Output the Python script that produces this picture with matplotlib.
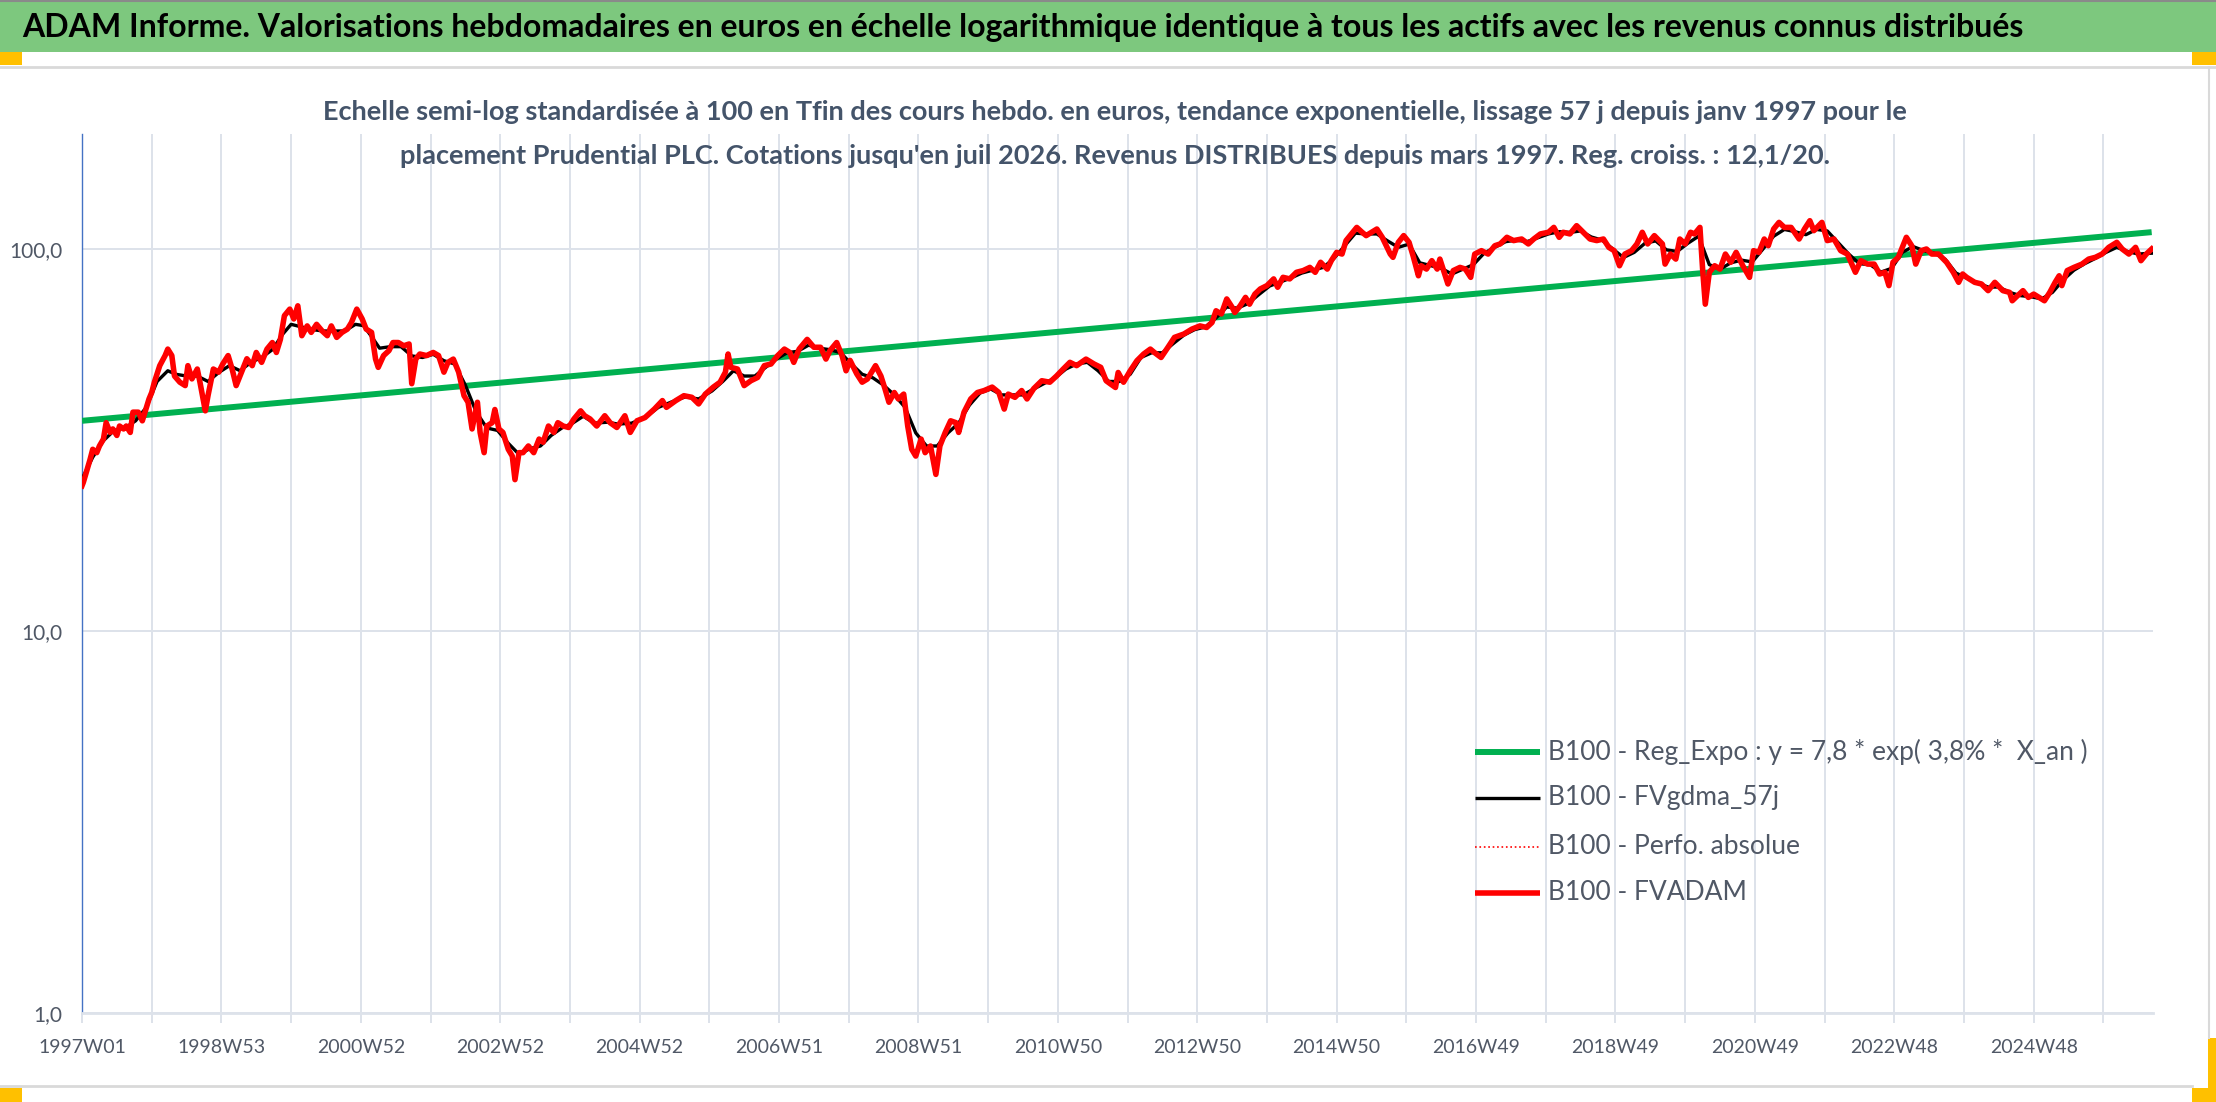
import matplotlib
matplotlib.use("Agg")
import matplotlib.pyplot as plt
from matplotlib.lines import Line2D
from matplotlib.patches import Rectangle

# valeurs (index = semaines depuis 1997W01, base 100)
red_week = [0, 1, 3, 6, 8, 11, 13, 16, 18, 21, 23, 26, 28, 31, 33, 36, 38, 42, 45, 47,
            50, 52, 54, 58, 62, 64, 67, 69, 73, 77, 79, 82, 86, 88, 92, 94, 98, 102, 105, 109,
            112, 115, 119, 123, 127, 130, 134, 138, 142, 145, 148, 151, 155, 158, 161, 164, 168, 171, 175, 179,
            183, 186, 190, 194, 198, 201, 205, 209, 212, 216, 219, 221, 225, 229, 232, 236, 240, 244, 246, 249,
            252, 257, 262, 266, 270, 273, 277, 281, 285, 288, 291, 295, 297, 300, 302, 306, 308, 311, 314, 318,
            321, 323, 326, 329, 333, 337, 341, 344, 348, 352, 355, 359, 363, 367, 372, 375, 379, 384, 390, 394,
            399, 405, 409, 414, 420, 427, 433, 436, 443, 449, 455, 460, 465, 471, 476, 480, 482, 484, 489, 494,
            499, 504, 509, 514, 519, 524, 528, 531, 535, 541, 546, 551, 555, 558, 563, 567, 570, 573, 578, 582,
            586, 592, 596, 599, 602, 606, 609, 613, 616, 619, 622, 626, 629, 633, 637, 640, 644, 648, 652, 654,
            658, 663, 668, 673, 679, 684, 688, 691, 696, 701, 705, 710, 716, 722, 727, 732, 737, 742, 749, 755,
            760, 764, 767, 771, 773, 777, 782, 787, 792, 797, 800, 805, 810, 815, 822, 828, 834, 839, 843, 846,
            850, 854, 858, 860, 864, 868, 871, 875, 879, 884, 889, 892, 896, 901, 906, 911, 916, 920, 924, 929,
            932, 936, 940, 943, 947, 951, 955, 958, 962, 966, 970, 973, 976, 978, 982, 986, 990, 993, 997, 999,
            1003, 1007, 1011, 1013, 1017, 1019, 1023, 1028, 1032, 1036, 1039, 1044, 1049, 1054, 1058, 1063, 1068, 1074, 1079, 1083,
            1088, 1094, 1098, 1102, 1105, 1110, 1115, 1120, 1125, 1130, 1135, 1139, 1143, 1147, 1151, 1156, 1160, 1164, 1168, 1173,
            1179, 1181, 1185, 1189, 1192, 1196, 1200, 1203, 1207, 1209, 1211, 1214, 1218, 1222, 1226, 1230, 1234, 1239, 1244, 1247,
            1251, 1255, 1258, 1262, 1266, 1270, 1275, 1281, 1285, 1289, 1292, 1298, 1302, 1307, 1312, 1317, 1323, 1327, 1332, 1337,
            1341, 1345, 1348, 1351, 1355, 1361, 1365, 1368, 1372, 1376, 1380, 1385, 1391, 1396, 1400, 1403, 1406, 1412, 1417, 1422,
            1427, 1433, 1438, 1440, 1444, 1448, 1452, 1456, 1460, 1464, 1468, 1472, 1475, 1477, 1481, 1486, 1492, 1497, 1502, 1507,
            1512, 1518, 1522, 1527, 1532, 1536, 1540, 1544]
red_val = [24.0, 24.5, 25.9, 28.1, 29.9, 29.3, 30.5, 31.8, 35.1, 33.1, 33.8, 32.5, 34.4, 33.8, 34.4, 33.1, 37.4, 37.4, 35.5, 37.4,
           40.5, 42.1, 44.8, 49.5, 52.6, 54.7, 52.6, 46.5, 44.8, 43.9, 49.5, 45.7, 48.5, 44.8, 37.7, 41.3, 48.5, 47.6, 50.0, 52.6,
           48.5, 43.9, 47.6, 51.6, 49.5, 53.6, 50.5, 54.7, 56.9, 53.6, 58.0, 66.9, 69.6, 65.6, 71.0, 59.3, 62.9, 60.5, 63.5, 61.1,
           59.3, 62.9, 58.7, 60.5, 61.7, 64.2, 69.6, 65.6, 61.7, 60.5, 51.5, 49.0, 52.6, 54.2, 56.9, 56.9, 55.8, 56.4, 44.4, 51.5,
           53.1, 52.6, 53.6, 52.6, 47.6, 50.5, 51.5, 47.6, 41.3, 39.7, 33.8, 39.7, 33.1, 29.3, 34.4, 35.1, 38.0, 33.8, 33.1, 29.9,
           28.7, 24.9, 29.3, 29.3, 30.5, 29.3, 31.8, 31.2, 34.4, 33.1, 35.1, 34.4, 34.1, 35.9, 37.7, 36.6, 35.9, 34.4, 36.6, 35.1,
           34.1, 36.6, 33.1, 35.5, 36.2, 38.1, 40.1, 38.5, 40.1, 41.3, 40.9, 39.3, 41.7, 43.5, 44.8, 47.6, 53.1, 49.0, 48.5, 43.9,
           45.2, 46.1, 49.5, 50.0, 52.6, 54.7, 53.6, 50.5, 54.7, 58.0, 55.3, 55.3, 51.5, 54.2, 56.9, 52.6, 48.0, 51.1, 47.1, 44.8,
           45.7, 49.5, 46.5, 43.1, 39.7, 42.1, 40.5, 41.7, 34.4, 29.9, 28.7, 31.8, 29.3, 30.5, 25.7, 30.5, 33.1, 35.5, 35.1, 33.1,
           37.4, 40.5, 42.1, 42.6, 43.5, 42.1, 38.1, 41.7, 40.9, 42.6, 40.5, 43.1, 45.2, 44.8, 46.5, 48.5, 50.5, 49.5, 51.5, 50.0,
           49.0, 45.2, 44.4, 43.4, 47.5, 44.8, 48.0, 51.0, 53.1, 54.7, 53.6, 52.0, 55.2, 58.7, 59.9, 61.7, 62.9, 62.3, 64.2, 68.9,
           67.6, 74.0, 70.4, 68.2, 71.0, 74.7, 71.7, 76.2, 78.6, 80.2, 83.5, 79.4, 84.3, 83.5, 86.9, 87.8, 89.5, 86.9, 92.3, 88.6,
           93.2, 98.0, 97.0, 105.2, 109.5, 113.9, 110.6, 108.4, 110.6, 112.8, 107.3, 102.0, 97.0, 95.1, 104.1, 108.4, 104.1, 96.0, 85.1, 90.4,
           88.6, 93.2, 88.6, 94.1, 85.1, 81.0, 87.8, 89.5, 88.6, 84.3, 97.0, 99.0, 97.0, 102.0, 103.1, 107.3, 105.2, 106.2, 103.1, 106.2,
           109.5, 110.6, 113.9, 107.3, 110.6, 109.5, 115.1, 110.6, 106.2, 105.2, 106.2, 101.0, 99.0, 90.4, 97.0, 99.0, 103.1, 110.6, 103.1, 108.4,
           103.1, 91.3, 97.0, 94.1, 106.2, 103.1, 110.6, 109.5, 113.9, 88.6, 71.7, 86.9, 90.4, 88.6, 97.0, 92.3, 98.0, 90.4, 84.3, 99.0,
           98.0, 106.2, 102.0, 112.8, 117.4, 113.9, 113.9, 106.2, 112.8, 118.6, 111.7, 117.4, 105.2, 106.2, 99.0, 97.0, 86.9, 93.2, 91.3, 91.3,
           86.0, 86.9, 80.2, 92.3, 95.1, 107.3, 102.0, 91.3, 99.0, 100.0, 97.0, 97.0, 92.3, 86.9, 81.8, 86.0, 84.3, 81.8, 81.0, 77.8,
           81.8, 77.8, 77.0, 73.2, 75.5, 77.8, 74.7, 76.2, 74.7, 73.2, 77.0, 81.8, 85.1, 80.2, 87.8, 89.5, 91.3, 94.1, 95.1, 97.0,
           101.0, 104.1, 100.0, 97.0, 101.0, 93.2, 97.0, 100.0]

black_week = [0, 8, 16, 24, 32, 40, 48, 56, 64, 70, 78, 86, 94, 102, 110, 118, 126, 134, 142, 150,
              156, 164, 172, 180, 188, 196, 204, 210, 216, 222, 230, 238, 246, 254, 262, 270, 278, 286, 294, 302,
              310, 318, 326, 334, 342, 350, 358, 366, 374, 382, 392, 400, 410, 420, 430, 440, 450, 460, 470, 478,
              486, 494, 502, 510, 518, 526, 534, 542, 550, 558, 566, 574, 582, 590, 598, 606, 614, 622, 630, 638,
              646, 654, 662, 670, 678, 686, 694, 702, 710, 718, 726, 734, 742, 750, 758, 766, 774, 782, 790, 798,
              806, 814, 822, 830, 838, 846, 854, 862, 870, 878, 886, 894, 902, 910, 918, 926, 934, 942, 950, 958,
              966, 974, 982, 990, 998, 1006, 1014, 1022, 1030, 1038, 1046, 1054, 1062, 1070, 1078, 1086, 1094, 1102, 1110, 1118,
              1126, 1134, 1142, 1150, 1158, 1166, 1174, 1182, 1190, 1198, 1206, 1214, 1222, 1230, 1238, 1246, 1254, 1262, 1270, 1278,
              1286, 1294, 1302, 1310, 1318, 1326, 1334, 1342, 1350, 1358, 1366, 1374, 1382, 1390, 1398, 1406, 1414, 1422, 1430, 1438,
              1446, 1454, 1462, 1470, 1478, 1486, 1494, 1502, 1510, 1518, 1526, 1534, 1544]
black_val = [25.0, 28.5, 31.5, 33.5, 34.0, 35.5, 38.5, 45.0, 48.0, 47.0, 46.5, 46.5, 45.0, 47.5, 49.5, 48.0, 50.5, 52.0, 54.5, 60.0,
             63.5, 62.5, 61.5, 61.0, 61.0, 61.0, 63.5, 63.0, 59.0, 55.0, 55.5, 55.5, 52.5, 52.0, 53.0, 51.0, 50.0, 44.0, 37.5, 34.0,
             33.5, 31.0, 29.0, 30.0, 30.5, 32.5, 34.0, 35.0, 36.5, 35.0, 35.2, 34.8, 35.0, 36.2, 38.5, 39.8, 41.0, 40.5, 42.5, 45.0,
             48.0, 46.5, 46.5, 49.0, 51.5, 53.5, 54.0, 56.0, 55.0, 54.5, 53.5, 50.0, 47.0, 46.0, 44.0, 41.5, 38.5, 33.0, 30.5, 30.5,
             33.0, 35.0, 39.0, 42.0, 43.0, 41.5, 41.5, 41.5, 43.0, 44.5, 46.0, 48.5, 50.0, 50.5, 48.0, 45.0, 45.0, 47.0, 52.0, 53.5,
             53.5, 56.5, 59.5, 61.5, 62.5, 66.0, 70.5, 70.0, 72.0, 76.0, 80.0, 82.0, 84.0, 86.5, 88.0, 89.5, 94.5, 102.0, 110.0, 109.5,
             109.5, 105.0, 101.0, 103.0, 92.0, 90.5, 89.0, 86.0, 88.5, 91.0, 97.5, 101.0, 104.5, 105.5, 104.5, 107.0, 109.5, 111.0, 110.5, 111.5,
             107.5, 105.5, 100.0, 95.0, 98.0, 103.5, 105.0, 99.5, 98.5, 103.5, 108.0, 91.0, 88.5, 92.0, 93.5, 92.5, 100.0, 108.0, 112.5, 111.0,
             109.0, 112.5, 111.5, 104.0, 97.0, 91.5, 91.0, 87.0, 89.0, 98.0, 101.5, 99.0, 97.5, 94.0, 86.5, 84.0, 81.5, 79.5, 79.5, 77.0,
             75.5, 75.0, 74.0, 77.0, 83.0, 88.0, 91.5, 94.5, 98.0, 101.0, 98.5, 97.0, 97.5]

green_week = [0, 1544]
green_val = [35.5, 110.7]

n_weeks = 1545
x_labels = ["1997W01", "1998W53", "2000W52", "2002W52", "2004W52", "2006W51", "2008W51", "2010W50",
            "2012W50", "2014W50", "2016W49", "2018W49", "2020W49", "2022W48", "2024W48"]
y_ticks = [1, 10, 100]
y_labels = ["1,0", "10,0", "100,0"]
legend_labels = ["B100 - Reg_Expo : y = 7,8 * exp( 3,8% *  X_an )",
                 "B100 - FVgdma_57j",
                 "B100 - Perfo. absolue",
                 "B100 - FVADAM"]

header = ("ADAM Informe. Valorisations hebdomadaires en euros en échelle logarithmique "
          "identique à tous les actifs avec les revenus connus distribués")
subtitle = ("Echelle semi-log standardisée à 100 en Tfin des cours hebdo. en euros, tendance exponentielle, "
            "lissage 57 j depuis janv 1997 pour le\nplacement Prudential PLC. Cotations jusqu'en juil 2026. "
            "Revenus DISTRIBUES depuis mars 1997. Reg. croiss. : 12,1/20.")

plt.rcParams['font.family'] = ['Lato', 'DejaVu Sans']
W, H = 2216, 1102
TXT = '#505866'
GRID = '#dde2ea'

def fx(px): return px / W
def fy(py): return 1 - py / H

fig = plt.figure(figsize=(W / 100, H / 100), dpi=100)

# bandeau vert + décor
fig.add_artist(Rectangle((0, fy(52)), 1, 52 / H, transform=fig.transFigure,
                         facecolor='#7dc87e', edgecolor='none'))
fig.add_artist(Line2D([0, 1], [fy(1), fy(1)], color='#8a8a8a', lw=1.5))
for x0, y0, w, h in [(0, 52, 22, 13), (2192, 52, 24, 13), (0, 1088, 22, 14), (2192, 1088, 24, 14), (2208, 1038, 8, 64)]:
    fig.add_artist(Rectangle((fx(x0), fy(y0 + h)), w / W, h / H, transform=fig.transFigure,
                             facecolor='#ffc000', edgecolor='none'))
fig.add_artist(Line2D([0, 1], [fy(67), fy(67)], color='#d9d9d9', lw=2))
fig.add_artist(Line2D([0, fx(2192)], [fy(1086), fy(1086)], color='#d9d9d9', lw=2))
fig.add_artist(Line2D([fx(2209), fx(2209)], [fy(67), fy(1038)], color='#d9d9d9', lw=1.5))
fig.text(fx(22), fy(27), header, fontsize=23, fontweight='bold', color='black', va='center', ha='left')

ax = fig.add_axes([fx(82), fy(1013), (2153 - 82) / W, (1013 - 134) / H])
ax.set_yscale('log')
ax.set_ylim(1, 200)
ax.set_xlim(0, n_weeks)

ax.plot(green_week, green_val, color='#00b050', lw=4.3, solid_capstyle='butt', zorder=3)
ax.plot(black_week, black_val, color='black', lw=2.4, zorder=4)
ax.plot(red_week, red_val, color='red', lw=1.2, ls=':', zorder=5)
ax.plot(red_week, red_val, color='red', lw=4.0, zorder=6)

ax.set_yticks(y_ticks)
ax.set_yticklabels(y_labels)
ax.yaxis.set_minor_locator(matplotlib.ticker.NullLocator())
ax.set_xticks(range(0, n_weeks, 52))
ax.set_xticklabels([x_labels[i // 2] if i % 2 == 0 else '' for i in range(len(range(0, n_weeks, 52)))])
ax.tick_params(axis='y', length=0, pad=14, labelsize=15, labelcolor=TXT)
ax.tick_params(axis='x', length=7, width=1.4, color=GRID, pad=12, labelsize=14, labelcolor=TXT)
ax.grid(True, which='major', color=GRID, lw=1.4)
ax.set_axisbelow(True)
for s in ['top', 'right']:
    ax.spines[s].set_visible(False)
ax.spines['bottom'].set_color(GRID)
ax.spines['bottom'].set_linewidth(2)
ax.spines['left'].set_color('#4472c4')
ax.spines['left'].set_linewidth(1)

fig.text(fx(1115), fy(134), subtitle, fontsize=19.5, fontweight='bold', color='#44546a',
         ha='center', va='center', multialignment='center', linespacing=1.95)

# légende
styles = [dict(color='#00b050', lw=4.3), dict(color='black', lw=2.4),
          dict(color='red', lw=1.2, ls=':'), dict(color='red', lw=4.0)]
for yrow, lab, st in zip([752, 798, 847, 893], legend_labels, styles):
    fig.add_artist(Line2D([fx(1475), fx(1540)], [fy(yrow), fy(yrow)], solid_capstyle='butt', **st))
    fig.text(fx(1548), fy(yrow), lab, fontsize=19, color=TXT, va='center', ha='left')

fig.savefig('out.png', dpi=100, facecolor='white')
